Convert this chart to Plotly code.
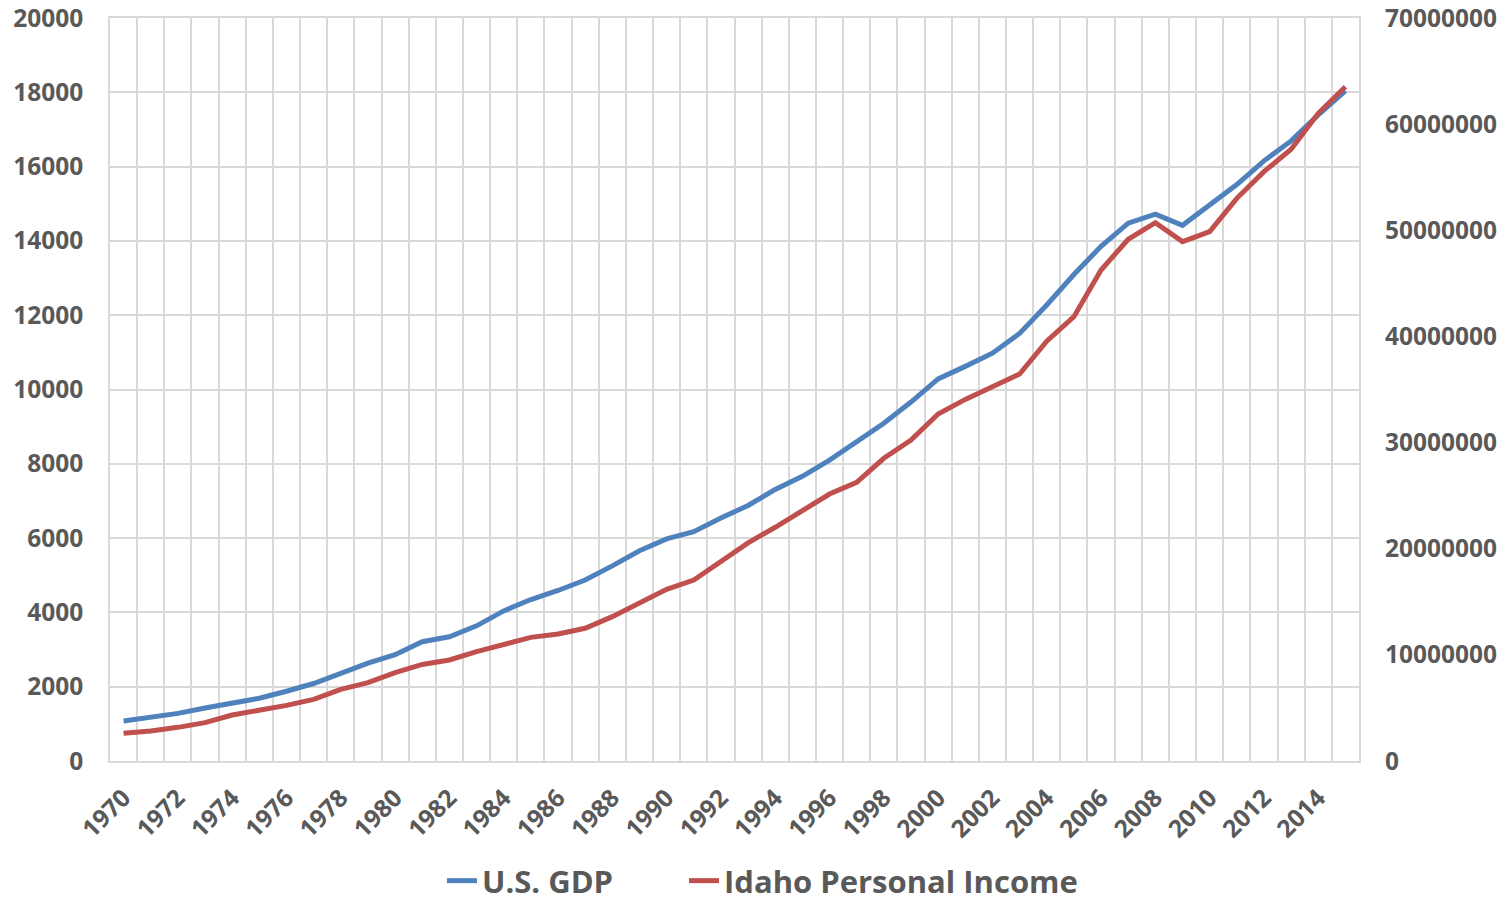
import plotly.graph_objects as go

years = list(range(1970, 2016))

us_gdp = [1076, 1168, 1282, 1428, 1549, 1689, 1878, 2086, 2357, 2632,
          2862, 3211, 3345, 3638, 4041, 4347, 4590, 4870, 5253, 5658,
          5980, 6174, 6539, 6879, 7309, 7664, 8100, 8609, 9089, 9661,
          10285, 10622, 10978, 11511, 12275, 13094, 13856, 14478, 14719, 14419,
          14964, 15518, 16155, 16692, 17393, 18037]

idaho_income = [2610000, 2830000, 3170000, 3610000, 4330000, 4740000, 5240000, 5810000, 6750000, 7380000,
                8320000, 9100000, 9520000, 10300000, 11020000, 11650000, 11960000, 12500000, 13600000, 14920000,
                16170000, 17050000, 18870000, 20550000, 22020000, 23650000, 25150000, 26250000, 28520000, 30240000,
                32690000, 34070000, 35210000, 36460000, 39550000, 41860000, 46260000, 49150000, 50720000, 48930000,
                49870000, 53010000, 55520000, 57630000, 61020000, 63530000]

x_tick_labels = [str(y) for y in range(1970, 2015, 2)]

TXT = "#595959"
GRID = "#d9d9d9"
FONT = "Open Sans"
TICKFONT = dict(family=FONT, size=24.5, color=TXT, weight="bold")
LEGFONT = dict(family=FONT, size=31, color=TXT, weight="bold")

fig = go.Figure()
fig.add_trace(go.Scatter(x=years, y=us_gdp, name="U.S. GDP", mode="lines",
                         line=dict(color="#4f81bd", width=5), legend="legend"))
fig.add_trace(go.Scatter(x=years, y=idaho_income, name="Idaho Personal Income", mode="lines",
                         line=dict(color="#c0504d", width=5), yaxis="y2", legend="legend2"))

fig.update_layout(
    width=1512, height=908,
    margin=dict(l=110, r=153, t=18, b=147, autoexpand=False),
    paper_bgcolor="white", plot_bgcolor="white",
    font=dict(family=FONT, size=24, color=TXT, weight="bold"),
    xaxis=dict(
        range=[1969.5, 2015.5], automargin=False,
        tickmode="array", tickvals=list(range(1970, 2015, 2)), ticktext=x_tick_labels,
        tickangle=-45, showgrid=False, zeroline=False,
        showline=True, linecolor=GRID, linewidth=1.5, mirror=True,
        ticks="", ticklabelstandoff=11, tickfont=TICKFONT,
        minor=dict(tick0=1969.5, dtick=1, showgrid=True, gridcolor=GRID, gridwidth=1.5),
    ),
    yaxis=dict(
        range=[0, 20000], dtick=2000, tickformat="d", automargin=False,
        showgrid=True, gridcolor=GRID, gridwidth=1.5, zeroline=False,
        showline=True, linecolor=GRID, linewidth=1.5, mirror=True,
        ticks="", ticklabelstandoff=20, tickfont=TICKFONT, ticklabeloverflow="allow",
    ),
    yaxis2=dict(
        range=[0, 70000000], dtick=10000000, tickformat="d", automargin=False,
        overlaying="y", side="right", showgrid=False, zeroline=False,
        ticks="", ticklabelstandoff=25, tickfont=TICKFONT, ticklabeloverflow="allow",
    ),
    legend=dict(orientation="h", xref="container", yref="container",
                x=0.2923, xanchor="left", y=0.0, yanchor="bottom",
                font=LEGFONT, bgcolor="rgba(0,0,0,0)"),
    legend2=dict(orientation="h", xref="container", yref="container",
                 x=0.4524, xanchor="left", y=0.0, yanchor="bottom",
                 font=LEGFONT, bgcolor="rgba(0,0,0,0)"),
    showlegend=True,
)

fig.write_html("out.html", config={"displayModeBar": False},
               post_script="document.body.style.margin='0';")
